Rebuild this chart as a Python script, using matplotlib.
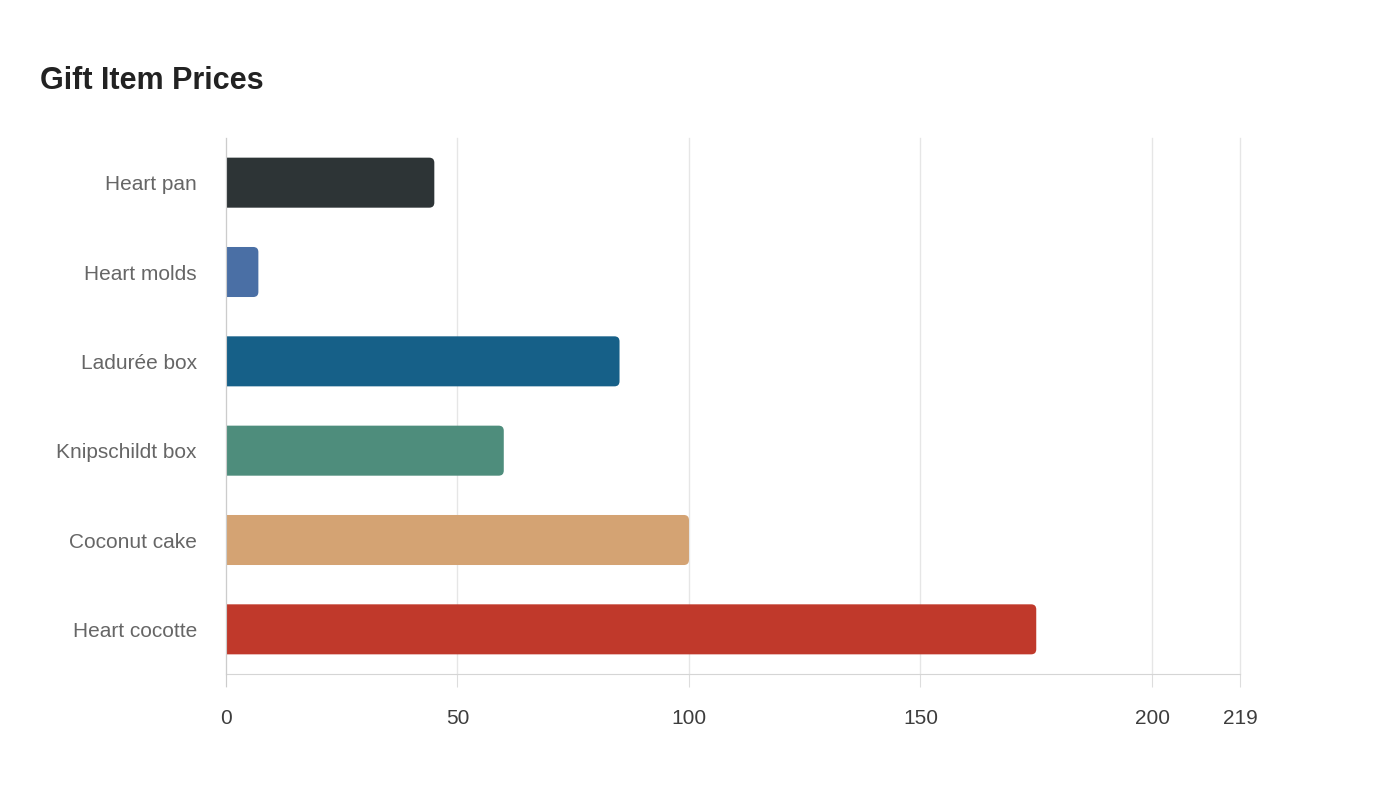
import matplotlib.pyplot as plt
from matplotlib.patches import FancyBboxPatch

plt.rcParams['font.family'] = ['Liberation Sans', 'DejaVu Sans']

items = ['Heart pan', 'Heart molds', 'Ladurée box', 'Knipschildt box', 'Coconut cake', 'Heart cocotte']
prices = [45, 7, 85, 60, 100, 175]
colors = ['#2d3436', '#4a6fa5', '#166088', '#4e8d7c', '#d4a373', '#c0392b']
xticks = [0, 50, 100, 150, 200, 219]

fig = plt.figure(figsize=(14, 8), dpi=100)
ax = fig.add_axes([0.1614, 0.1575, 0.7243, 0.67])

h = 0.56
r = 1.1
asp = 0.052
start = -4  # left rounded corners fall outside the axes and get clipped
for i, (v, c) in enumerate(zip(prices, colors)):
    p = FancyBboxPatch((start, i - h / 2), v - start, h,
                       boxstyle=f'round,pad=0,rounding_size={r}',
                       mutation_aspect=asp, fc=c, ec='none', zorder=3)
    ax.add_patch(p)

ax.set_xlim(0, 219)
ax.set_ylim(5.5, -0.5)
ax.set_yticks(range(len(items)))
ax.set_yticklabels(items, fontsize=15, color='#666666')
ax.tick_params(axis='y', length=0, pad=21)
ax.set_xticks(xticks)
ax.set_xticklabels([str(t) for t in xticks], fontsize=15, color='#3d3d3d')
ax.tick_params(axis='x', length=9, color='#dddddd', pad=16)
ax.grid(axis='x', color='#e6e6e6', linewidth=1, zorder=0)
for gl in ax.get_xgridlines():
    gl.set_clip_on(False)

for s in ['top', 'right']:
    ax.spines[s].set_visible(False)
ax.spines['left'].set_color('#cccccc')
ax.spines['left'].set_bounds(5.63, -0.5)
ax.spines['left'].set_zorder(5)
ax.spines['bottom'].set_color('#d5d5d5')
ax.spines['bottom'].set_linestyle((0, (1, 1)))

fig.text(40 / 1400, 1 - 81 / 800, 'Gift Item Prices', fontsize=22, fontweight='bold',
         color='#222222', va='center', ha='left')

fig.savefig('out.png', dpi=100)
